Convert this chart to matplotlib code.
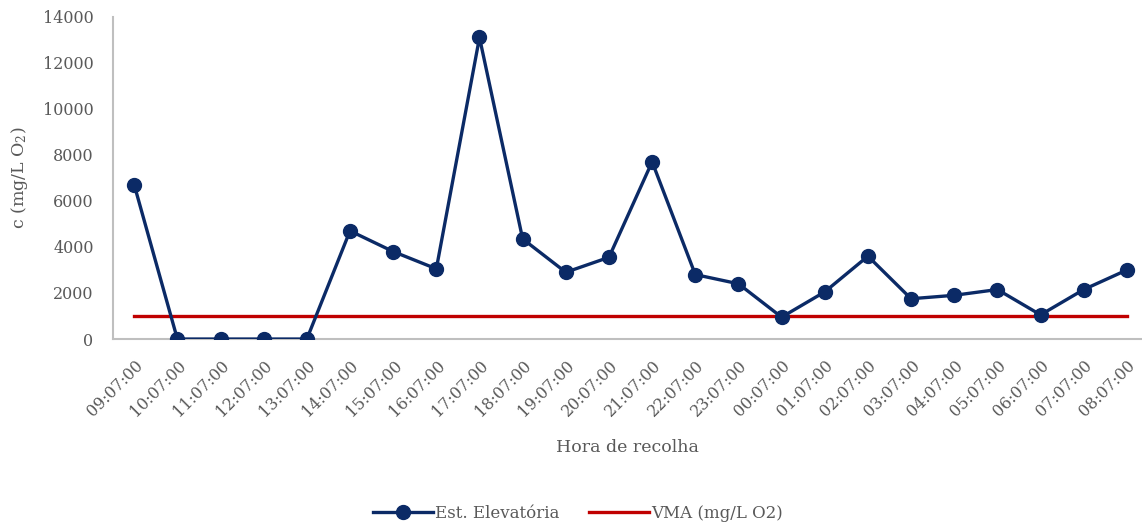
import matplotlib
matplotlib.use("Agg")
from matplotlib import pyplot as plt

# sampling times and measured concentration at the pumping station
horas = ["09:07:00", "10:07:00", "11:07:00", "12:07:00", "13:07:00", "14:07:00",
         "15:07:00", "16:07:00", "17:07:00", "18:07:00", "19:07:00", "20:07:00",
         "21:07:00", "22:07:00", "23:07:00", "00:07:00", "01:07:00", "02:07:00",
         "03:07:00", "04:07:00", "05:07:00", "06:07:00", "07:07:00", "08:07:00"]
est_elevatoria = [6700, 0, 0, 0, 0, 4700, 3800, 3050, 13100, 4350, 2900, 3550,
                  7700, 2800, 2400, 950, 2050, 3600, 1750, 1900, 2150, 1050, 2150, 3000]
vma = [1000] * len(horas)

plt.rcParams['font.family'] = ['DejaVu Serif']
plt.rcParams['mathtext.fontset'] = 'dejavuserif'

navy = '#0b2a66'
red = '#c00000'
grey_txt = '#595959'

fig = plt.figure(figsize=(11.42, 5.24), dpi=100)
ax = fig.add_axes([0.099, 0.353, 0.901, 0.615])

x = list(range(len(horas)))
ax.plot(x, est_elevatoria, color=navy, lw=2.4, marker='o', markersize=10,
        label='Est. Elevatória', zorder=3)
ax.plot(x, vma, color=red, lw=2.4, label='VMA (mg/L O2)', zorder=2)

ax.set_xlim(-0.49, 23.35)
ax.set_ylim(0, 14000)
ax.set_yticks(range(0, 14001, 2000))
ax.set_xticks(x)
ax.set_xticklabels(horas, rotation=45, ha='right', rotation_mode='anchor')

ax.tick_params(axis='both', length=0, labelsize=11.5, colors=grey_txt)
ax.tick_params(axis='y', pad=14)
ax.tick_params(axis='x', pad=13)
for side in ['top', 'right']:
    ax.spines[side].set_visible(False)
for side in ['left', 'bottom']:
    ax.spines[side].set_color('#bfbfbf')
    ax.spines[side].set_linewidth(1.5)

ax.set_ylabel('c (mg/L O$_2$)', fontsize=12.5, color=grey_txt, labelpad=9)
ax.set_xlabel('Hora de recolha', fontsize=12.5, color=grey_txt, labelpad=14)

fig.legend(loc='center', bbox_to_anchor=(0.506, 0.02), ncol=2, frameon=False,
           fontsize=12, handlelength=3.6, handletextpad=0.1, columnspacing=1.8,
           labelcolor=grey_txt)

fig.savefig('out.png', dpi=100)
